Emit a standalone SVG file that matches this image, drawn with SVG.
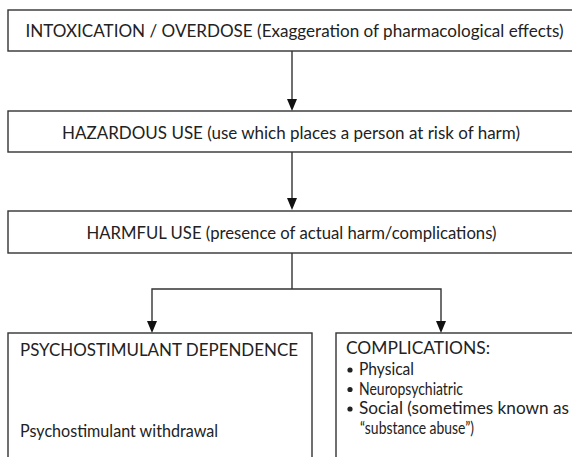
<svg xmlns="http://www.w3.org/2000/svg" width="572" height="457" viewBox="0 0 572 457">
<style>
.box{fill:#fff;stroke:#333;stroke-width:1.4}
.t{font-family:Lato,"Liberation Sans",sans-serif;font-size:17px;fill:#222}
.c{fill:none;stroke:#333;stroke-width:1.4}
.ah{fill:#111}
</style>
<rect width="572" height="457" fill="#fff"/>
<g id="connectors">
<line class="c" x1="292" y1="51" x2="292" y2="100"/>
<line class="c" x1="292" y1="152" x2="292" y2="199"/>
<polyline class="c" points="292,253 292,289"/>
<polyline class="c" points="152,322 152,289 441,289 441,322"/>
<path class="ah" d="M287,99 L297,99 L292,111 Z"/>
<path class="ah" d="M287,198 L297,198 L292,210 Z"/>
<path class="ah" d="M147,321 L157,321 L152,333 Z"/>
<path class="ah" d="M436,321 L446,321 L441,333 Z"/>
</g>
<g id="n1">
<rect class="box" x="8" y="10" width="580" height="41"/>
<text class="t" x="25.5" y="37" textLength="538" lengthAdjust="spacingAndGlyphs">INTOXICATION / OVERDOSE (Exaggeration of pharmacological effects)</text>
</g>
<g id="n2">
<rect class="box" x="8" y="111" width="580" height="41"/>
<text class="t" x="62" y="139" textLength="458" lengthAdjust="spacingAndGlyphs">HAZARDOUS USE (use which places a person at risk of harm)</text>
</g>
<g id="n3">
<rect class="box" x="8" y="211" width="580" height="42"/>
<text class="t" x="86.5" y="239" textLength="410" lengthAdjust="spacingAndGlyphs">HARMFUL USE (presence of actual harm/complications)</text>
</g>
<g id="n4">
<rect class="box" x="8" y="333" width="304" height="140"/>
<text class="t" x="20" y="356" textLength="278" lengthAdjust="spacingAndGlyphs">PSYCHOSTIMULANT DEPENDENCE</text>
<text class="t" x="20" y="437" textLength="198" lengthAdjust="spacingAndGlyphs">Psychostimulant withdrawal</text>
</g>
<g id="n5">
<rect class="box" x="336" y="333" width="250" height="140"/>
<text class="t" x="346" y="354" textLength="144" lengthAdjust="spacingAndGlyphs">COMPLICATIONS:</text>
<circle cx="350" cy="370" r="2.6" fill="#222"/>
<text class="t" x="359" y="375" textLength="55" lengthAdjust="spacingAndGlyphs">Physical</text>
<circle cx="350" cy="389.5" r="2.6" fill="#222"/>
<text class="t" x="359" y="394.5" textLength="104" lengthAdjust="spacingAndGlyphs">Neuropsychiatric</text>
<circle cx="350" cy="409" r="2.6" fill="#222"/>
<text class="t" x="359" y="414" textLength="210" lengthAdjust="spacingAndGlyphs">Social (sometimes known as</text>
<text class="t" x="360" y="434" textLength="114" lengthAdjust="spacingAndGlyphs">“substance abuse”)</text>
</g>
</svg>
